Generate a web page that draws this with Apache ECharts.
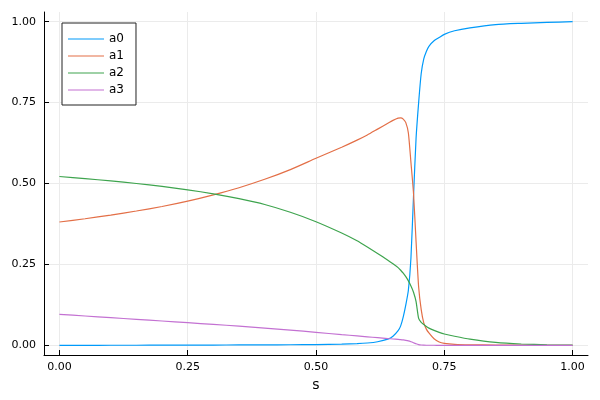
<!DOCTYPE html>
<html>
<head>
<meta charset="utf-8">
<script src="https://cdn.jsdelivr.net/npm/echarts@6/dist/echarts.min.js"></script>
<style>html,body{margin:0;padding:0;background:#fff}#c{width:600px;height:400px}</style>
</head>
<body>
<div id="c"></div>
<script>
var s  = [0, 0.05, 0.1, 0.15, 0.2, 0.25, 0.3, 0.35, 0.4, 0.45, 0.5, 0.55, 0.58, 0.6, 0.62, 0.64, 0.65, 0.66, 0.665, 0.67, 0.675, 0.68, 0.685, 0.69, 0.695, 0.7, 0.705, 0.71, 0.715, 0.72, 0.73, 0.74, 0.75, 0.77, 0.8, 0.85, 0.9, 0.95, 1.0];
var a0 = [0, 0, 0.0001, 0.0002, 0.0003, 0.0005, 0.0007, 0.001, 0.0013, 0.0017, 0.0023, 0.0035, 0.005, 0.007, 0.011, 0.019, 0.028, 0.045, 0.06, 0.088, 0.125, 0.17, 0.27, 0.46, 0.64, 0.75, 0.84, 0.885, 0.908, 0.924, 0.941, 0.951, 0.961, 0.972, 0.981, 0.991, 0.995, 0.998, 1.0];
var a1 = [0.381, 0.391, 0.4025, 0.415, 0.429, 0.4455, 0.465, 0.487, 0.513, 0.543, 0.578, 0.612, 0.634, 0.650, 0.668, 0.686, 0.695, 0.702, 0.703, 0.699, 0.688, 0.656, 0.565, 0.47, 0.32, 0.18, 0.11, 0.069, 0.05, 0.038, 0.02, 0.01, 0.006, 0.003, 0.0015, 0.0008, 0.0004, 0.0002, 0.0001];
var a2 = [0.5216, 0.515, 0.508, 0.5, 0.491, 0.4805, 0.468, 0.453, 0.435, 0.411, 0.382, 0.347, 0.323, 0.304, 0.284, 0.263, 0.252, 0.240, 0.232, 0.223, 0.212, 0.199, 0.183, 0.164, 0.135, 0.083, 0.071, 0.064, 0.058, 0.053, 0.046, 0.04, 0.035, 0.028, 0.019, 0.009, 0.004, 0.0015, 0.0005];
var a3 = [0.0956, 0.0905, 0.0854, 0.0802, 0.0751, 0.0699, 0.0646, 0.0591, 0.0533, 0.047, 0.040, 0.033, 0.029, 0.0262, 0.0235, 0.0208, 0.0195, 0.0182, 0.0175, 0.0165, 0.0152, 0.0135, 0.011, 0.008, 0.0048, 0.0022, 0.0009, 0.0004, 0.0002, 0.0001, 0.0001, 0, 0, 0, 0, 0, 0, 0, 0];
var names = ['a0', 'a1', 'a2', 'a3'];
var colors = ['#009AFA', '#E36F47', '#3EA44E', '#C371D2'];
var tickVals = [0, 0.25, 0.5, 0.75, 1.0];

function pairs(ys) { return s.map(function (x, i) { return [x, ys[i]]; }); }
var all = [a0, a1, a2, a3];

var axisCommon = {
  type: 'value',
  axisLine: { show: true, onZero: false, lineStyle: { color: '#000', width: 1 } },
  axisTick: { show: true, inside: true, length: 5, lineStyle: { color: '#000' }, customValues: tickVals },
  axisLabel: { customValues: tickVals, color: '#000', fontFamily: 'DejaVu Sans', fontSize: 11, formatter: function (v) { return v.toFixed(2); } },
  splitLine: { show: true, lineStyle: { color: '#ebebeb', width: 1 } }
};

var lineIcon = 'path://M0,0 M0,4.4 L36,4.4 L36,5.6 L0,5.6 Z M36,10';

var chart = echarts.init(document.getElementById('c'), null, { renderer: 'canvas' });
chart.setOption({
  animation: false,
  color: colors,
  grid: { left: 44, top: 12, right: 12, bottom: 45, containLabel: false },
  xAxis: Object.assign({}, axisCommon, {
    min: -0.03, max: 1.03,
    name: 's', nameLocation: 'middle', nameGap: 17,
    nameTextStyle: { color: '#000', fontFamily: 'DejaVu Sans', fontSize: 14 },
    axisLabel: Object.assign({}, axisCommon.axisLabel, { margin: 7 })
  }),
  yAxis: Object.assign({}, axisCommon, {
    min: -0.03, max: 1.03,
    axisLabel: Object.assign({}, axisCommon.axisLabel, { margin: 8 })
  }),
  legend: {
    orient: 'vertical', left: 62, top: 23,
    padding: [10, 12, 9, 6], itemGap: 5, itemWidth: 36, itemHeight: 10, itemTextGap: 6,
    borderColor: '#222', borderWidth: 1, backgroundColor: '#fff', borderRadius: 0,
    textStyle: { color: '#000', fontFamily: 'DejaVu Sans', fontSize: 12 },
    data: names.map(function (n) { return { name: n, icon: lineIcon }; })
  },
  series: names.map(function (n, i) {
    return {
      name: n, type: 'line', data: pairs(all[i]), symbol: 'none', smooth: 0.2,
      lineStyle: { width: 1.2, color: colors[i] }, itemStyle: { color: colors[i] }, z: 2 + i
    };
  })
});
</script>
</body>
</html>
